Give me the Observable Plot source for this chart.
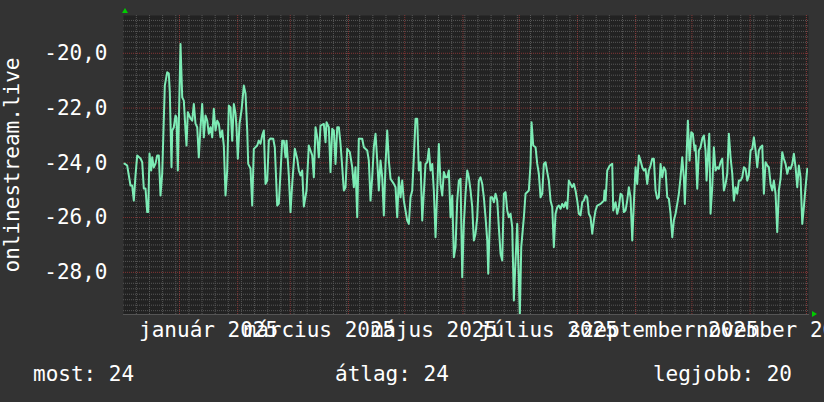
<!DOCTYPE html>
<html><head><meta charset="utf-8">
<script src="https://cdn.jsdelivr.net/npm/d3@7"></script>
<script src="https://cdn.jsdelivr.net/npm/@observablehq/plot@0.6"></script>
<style>
html,body{margin:0;padding:0;background:#333;overflow:hidden;}
#wrap{position:relative;width:824px;height:402px;background:#333;font-family:"DejaVu Sans Mono",monospace;}
#legend{position:relative;width:824px;height:52px;color:#fff;font-size:21px;}
#legend span{position:absolute;top:12px;white-space:pre;}
</style></head><body>
<div id="wrap"><div id="chart"></div><div id="legend"></div></div>
<script>
// days since 2025-01-01 (local), and value of the series
const dayOffsets = [-29.3,-27.87,-26.11,-25.2,-24.35,-23.44,-22.54,-20.78,-19.87,-19.02,-18.12,-17.21,-16.68,-15.98,-15.08,-14.55,-13.69,-12.79,-11.88,-11.03,-10.12,-9.22,-7.83,-6.55,-5.7,-5.17,-4.26,-3.89,-3.04,-2.13,-1.6,-0.91,0.53,1.44,2.29,3.2,3.73,4.42,5.86,6.77,7.62,8.52,9.43,10.28,11.19,12.09,12.95,13.85,14.76,15.61,16.52,17.42,18.27,19.18,20.09,20.94,21.84,22.75,23.6,24.51,25.41,26.27,27.17,28.08,28.93,29.84,30.37,31.06,31.97,33.03,34.26,35.16,36.07,36.6,37.83,38.73,39.59,41.4,42.25,43.16,44.06,44.92,45.82,46.73,47.58,48.48,49.92,50.78,52.05,52.91,54.72,55.57,56.48,57.01,58.24,59.14,60.05,61.43,62.71,63.56,64.47,65.37,66.23,67.67,68.89,69.8,70.7,71.56,72.46,73.37,74.22,75.12,76.88,77.79,78.32,79.55,80.45,81.36,82.21,83.12,84.02,84.88,85.78,86.69,87.54,88.45,89.35,90.74,92.01,92.87,93.77,94.68,95.53,97.34,98.2,100.01,100.86,101.76,102.67,103.52,104.43,105.34,106.19,107.09,108.0,108.85,109.76,110.66,111.52,112.42,114.18,115.08,115.99,116.84,117.75,118.65,119.51,121.32,122.17,123.08,123.98,124.84,125.74,126.65,127.5,128.4,129.31,131.07,131.97,132.83,133.73,134.64,135.49,136.4,137.3,138.16,139.06,139.97,140.82,141.73,142.63,143.49,144.39,145.3,146.15,147.05,147.96,148.81,149.72,150.62,151.48,152.38,153.29,154.14,155.05,155.95,156.81,157.71,158.62,159.47,160.37,161.28,162.13,163.04,163.95,164.48,165.7,166.61,167.46,168.36,169.27,170.12,171.03,171.94,172.79,173.69,174.6,175.45,176.36,177.26,178.12,179.02,179.93,180.78,181.31,182.06,183.45,184.35,186.11,187.01,187.55,188.45,189.68,190.59,191.44,192.34,193.25,194.1,195.01,195.92,196.77,197.67,198.58,199.43,200.33,201.24,202.09,203.0,203.91,204.76,205.66,206.57,207.42,208.32,209.23,210.08,210.99,211.9,212.75,213.65,214.56,215.41,216.32,217.22,218.08,218.98,219.89,220.74,221.65,222.55,224.31,225.22,226.07,226.44,226.98,227.88,229.26,230.54,231.07,232.3,233.2,234.06,234.96,235.87,236.72,237.63,238.53,239.39,240.29,241.2,242.05,242.96,243.86,244.72,245.62,246.53,247.38,248.28,249.19,250.04,250.95,251.85,252.71,253.61,254.52,255.37,256.28,257.18,258.04,258.94,259.85,260.7,261.6,262.51,263.36,264.27,265.18,266.03,266.93,267.84,268.69,269.23,270.13,270.83,271.73,272.64,273.49,274.4,274.93,275.83,276.69,277.59,278.5,279.35,280.25,280.79,281.69,282.23,282.92,283.83,284.68,285.59,286.49,287.34,288.25,289.16,290.01,290.92,291.82,292.67,293.58,294.49,295.34,296.24,297.15,298.0,298.91,299.81,300.67,301.57,302.48,303.33,304.23,305.14,305.99,306.9,307.8,308.66,309.56,310.47,311.32,312.22,313.13,313.98,314.89,315.8,316.65,317.55,318.46,319.31,320.22,321.12,321.98,322.88,323.79,324.64,325.55,326.45,327.3,328.21,329.12,329.97,330.87,331.78,332.63,333.54,334.44];
const values = [-24.03,-24.10,-24.83,-24.83,-25.38,-24.46,-23.73,-23.84,-23.98,-24.94,-24.94,-25.80,-25.80,-23.66,-24.28,-23.80,-24.17,-24.03,-23.73,-23.73,-25.19,-24.39,-21.18,-20.69,-20.74,-21.42,-24.16,-22.82,-22.71,-22.27,-22.35,-24.28,-19.66,-21.61,-21.73,-22.82,-23.37,-22.15,-22.38,-22.46,-21.85,-22.57,-22.70,-23.80,-22.70,-21.85,-23.07,-22.27,-22.46,-22.94,-22.70,-23.07,-22.03,-22.82,-22.46,-22.57,-23.07,-22.82,-23.37,-25.19,-24.28,-21.91,-21.98,-23.19,-21.85,-22.20,-22.71,-23.85,-22.57,-22.09,-21.18,-21.47,-22.82,-24.04,-24.21,-25.56,-23.49,-23.37,-23.19,-23.30,-23.00,-22.82,-24.77,-24.65,-23.19,-23.11,-23.12,-23.44,-25.56,-25.49,-23.19,-23.19,-23.80,-23.19,-24.46,-25.80,-24.76,-23.49,-23.85,-24.28,-24.46,-24.28,-25.60,-25.01,-23.37,-23.55,-23.73,-24.53,-22.70,-23.07,-23.80,-22.64,-22.58,-23.25,-22.52,-22.70,-24.34,-22.76,-22.82,-24.04,-22.70,-22.70,-23.31,-24.16,-25.01,-24.89,-23.49,-23.61,-24.16,-24.89,-24.16,-25.99,-23.12,-23.12,-23.43,-23.55,-23.92,-25.38,-24.53,-23.43,-22.94,-23.92,-25.01,-23.92,-24.53,-25.92,-24.04,-22.82,-23.92,-24.58,-24.77,-24.89,-25.99,-24.53,-25.26,-24.65,-25.38,-26.11,-26.23,-25.26,-25.01,-23.80,-22.39,-22.39,-24.28,-23.98,-26.11,-24.04,-23.98,-23.49,-24.28,-24.04,-25.01,-26.72,-25.01,-23.31,-24.77,-25.19,-24.34,-24.53,-24.53,-24.28,-25.99,-25.19,-27.45,-27.08,-25.38,-24.65,-24.58,-28.18,-26.23,-25.13,-24.28,-24.53,-25.01,-25.62,-26.84,-26.59,-25.99,-24.65,-24.53,-24.77,-25.26,-25.99,-26.84,-28.05,-25.26,-25.26,-25.44,-25.13,-25.38,-26.35,-27.32,-27.57,-25.13,-25.07,-25.74,-25.99,-25.86,-26.35,-29.03,-27.57,-26.23,-28.30,-29.55,-27.08,-25.99,-25.13,-25.01,-24.04,-22.52,-23.37,-23.43,-24.04,-24.40,-25.26,-25.13,-24.04,-23.98,-24.34,-24.65,-25.38,-25.62,-27.08,-25.86,-25.62,-25.56,-25.68,-25.50,-25.62,-25.44,-25.68,-24.65,-24.77,-24.89,-24.77,-25.01,-25.38,-25.86,-25.92,-25.44,-25.38,-25.19,-25.26,-25.86,-25.99,-26.59,-26.11,-25.74,-25.56,-25.50,-25.44,-25.38,-25.01,-25.38,-24.28,-24.10,-24.04,-25.74,-25.44,-25.86,-25.62,-25.13,-25.19,-25.80,-25.74,-25.38,-24.89,-25.26,-26.84,-25.50,-24.16,-24.77,-23.73,-23.92,-24.16,-24.28,-24.22,-24.77,-24.28,-24.10,-23.85,-23.85,-25.01,-25.31,-25.26,-24.04,-24.53,-24.16,-24.28,-25.26,-25.31,-25.86,-26.72,-26.11,-25.86,-25.50,-25.13,-24.53,-23.80,-24.53,-25.50,-23.80,-22.46,-23.92,-22.88,-22.94,-23.55,-23.37,-24.95,-23.55,-23.43,-23.12,-23.00,-23.55,-24.65,-23.55,-22.94,-25.86,-24.89,-23.43,-24.28,-24.16,-24.22,-23.98,-23.85,-25.01,-24.77,-24.40,-22.94,-23.80,-24.40,-25.38,-24.89,-25.13,-24.65,-24.65,-24.53,-24.16,-24.22,-24.65,-24.46,-23.55,-23.49,-23.07,-23.55,-24.16,-23.55,-23.43,-23.37,-25.13,-23.98,-24.10,-24.16,-24.77,-25.01,-24.65,-25.13,-26.53,-25.01,-24.58,-23.61,-23.85,-24.04,-24.40,-24.16,-24.22,-24.04,-23.67,-24.16,-24.89,-24.10,-24.53,-26.23,-25.62,-24.89,-24.22];

const yTicks = [-28, -26, -24, -22, -20];
const xTickMonths = [0, 2, 4, 6, 8, 10];
const xTickLabels = ["január 2025", "március 2025", "május 2025", "július 2025", "szeptember 2025", "november 2025"];
const yTitle = "onlinestream.live";
const legendItems = ["most: 24", "átlag: 24", "legjobb: 20"];

(function () {
const base = new Date(2025, 0, 1).getTime();
const DAY = 864e5;
const data = dayOffsets.map((d, i) => ({date: new Date(base + d * DAY), value: values[i]}));

const xDomain = [new Date(base - 29.84 * DAY), new Date(base + 335.1 * DAY)];
const yDomain = [-29.54, -18.62];

const weeks = d3.timeMonday.range(xDomain[0], xDomain[1]);
const months = d3.timeMonth.range(d3.timeMonth.ceil(xDomain[0]), xDomain[1]);
const minorY = d3.range(-147, -93).map(i => i / 5).filter(v => Math.abs(v % 2) > 1e-6);
const labelData = xTickMonths.map((m, i) => {
  const s = new Date(2025, m, 1), e = new Date(2025, m + 1, 1);
  return {date: new Date((+s + +e) / 2), label: xTickLabels[i]};
});

const minor = "#575757", major = "#853636";
const font = "DejaVu Sans Mono";

const plot = Plot.plot({
  width: 824,
  height: 350,
  marginLeft: 123,
  marginRight: 16,
  marginTop: 15,
  marginBottom: 36,
  style: {background: "#333", color: "#fff", fontFamily: font, fontSize: "21px", overflow: "hidden"},
  x: {type: "time", domain: xDomain, axis: null},
  y: {domain: yDomain, axis: null},
  marks: [
    Plot.frame({fill: "#222", stroke: null}),
    Plot.ruleX(weeks, {stroke: minor, strokeDasharray: "1,1", strokeWidth: 1}),
    Plot.ruleY(minorY, {stroke: minor, strokeDasharray: "1,1", strokeWidth: 1}),
    Plot.ruleX(months, {stroke: major, strokeDasharray: "1,1", strokeWidth: 1}),
    Plot.ruleY(yTicks, {stroke: major, strokeDasharray: "1,1", strokeWidth: 1}),
    Plot.line(data, {x: "date", y: "value", stroke: "#7debb5", strokeWidth: 2, clip: true}),
    Plot.frame({anchor: "bottom", stroke: "#555"}),
    Plot.axisY(yTicks, {tickSize: 0, tickPadding: 16, fontSize: 21, fill: "#fff", label: null,
      tickFormat: d => d.toFixed(1).replace(".", ",")}),
    Plot.text(labelData, {x: "date", text: "label", frameAnchor: "bottom", dy: 16, fill: "#fff", fontSize: 21, lineAnchor: "middle"}),
    Plot.text([yTitle], {frameAnchor: "left", textAnchor: "middle", dx: -111, rotate: -90, fill: "#fff", fontSize: 21, lineAnchor: "middle"})
  ]
});
document.getElementById("chart").appendChild(plot);

// decorative axis arrows (rrdtool style)
const svg = d3.select(plot);
const xr = plot.scale("x").range, yr = plot.scale("y").range;
const pl = Math.min(...xr), pr = Math.max(...xr), pt = Math.min(...yr), pb = Math.max(...yr);
svg.append("polygon").attr("points", `${pl-1},${pt-2} ${pl+5},${pt-2} ${pl+2},${pt-7}`).attr("fill", "#00cc00");
svg.append("polygon").attr("points", `${pr+4},${pb-3} ${pr+4},${pb+3} ${pr+9},${pb}`).attr("fill", "#00cc00");

const lg = document.getElementById("legend");
const lefts = [33, 335, null];
legendItems.forEach((t, i) => {
  const s = document.createElement("span");
  s.textContent = t;
  if (lefts[i] !== null) s.style.left = lefts[i] + "px"; else s.style.right = (824 - 792) + "px";
  lg.appendChild(s);
});
})();
</script>
</body></html>
